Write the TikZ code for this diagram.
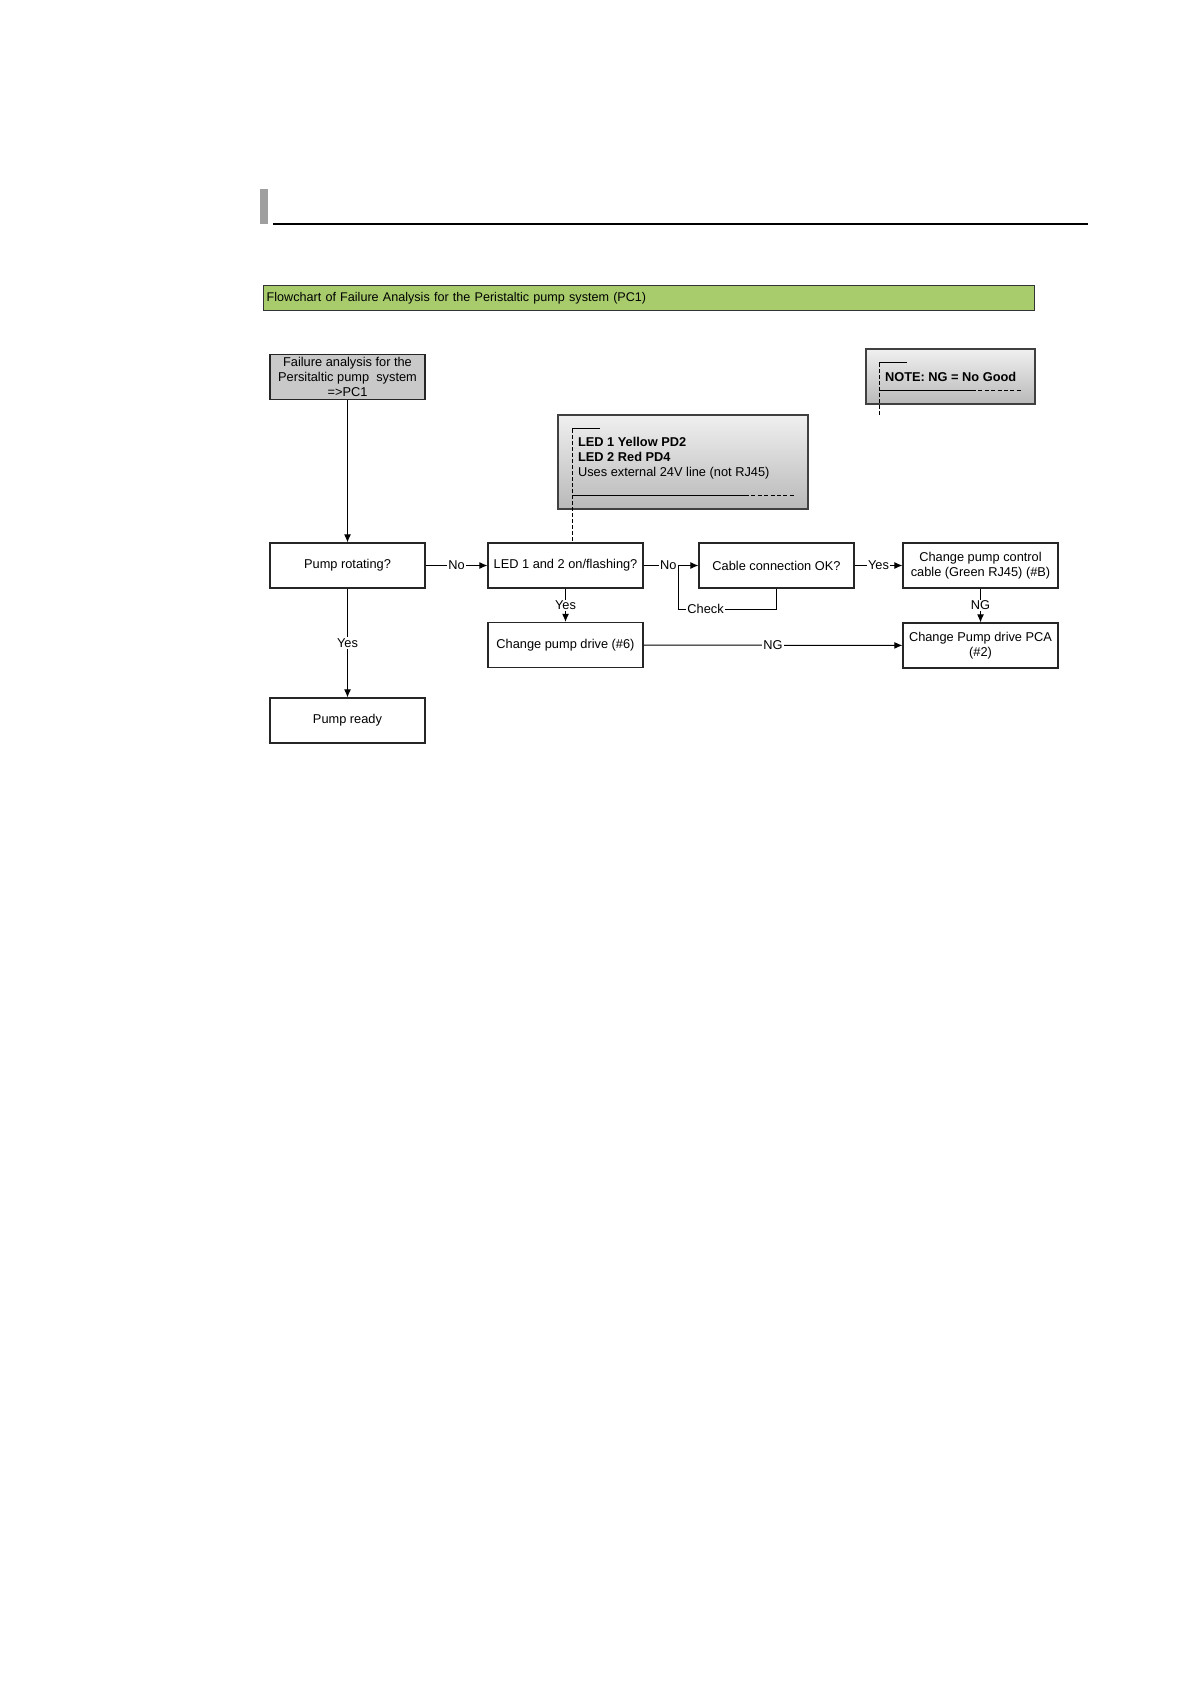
\documentclass[tikz,border=0pt]{standalone}
\usepackage{fontspec}
\setmainfont{Liberation Sans}
\usetikzlibrary{arrows.meta}

\definecolor{titlegreen}{RGB}{168,204,108}
\tikzset{
  txt/.style={font=\fontsize{6.4}{7.5}\selectfont},
  box/.style={draw=black!85, line width=0.55pt, minimum width=77.5pt, minimum height=22.5pt,
    inner sep=1pt, align=center, txt},
  greybox/.style={box, fill=gray!42},
  notebox/.style={draw=gray!50!black, line width=0.6pt, top color=gray!12, bottom color=gray!55},
  lbl/.style={fill=white, inner sep=0.6pt, txt},
  flow/.style={->, line width=0.5pt},
}

\begin{document}
\begin{tikzpicture}[x=0.5pt,y=-0.5pt,>={Latex[length=4pt,width=3.4pt]}]
	\useasboundingbox (0,0) rectangle (1190,1684);
	% page header
	\fill[gray!75] (260,189) rectangle (268,224);
	\draw[line width=0.8pt] (273,224) -- (1088,224);
	\node[draw=gray!40!black, fill=titlegreen, line width=0.7pt, anchor=north west,
		text width=382.5pt, inner xsep=1.5pt, minimum height=11.5pt,
		font=\fontsize{6.3}{7.5}\selectfont] (title) at (263,285)
		{Flowchart of Failure Analysis for the Peristaltic pump system (PC1)};

	% notes
	\node[notebox, minimum width=125pt, minimum height=47pt] (ledinfo) at (683,462) {};
	\node[anchor=west, align=left, txt] (ledtxt) at (571,458)
		{\textbf{LED 1 Yellow PD2}\\\textbf{LED 2 Red PD4}\\Uses external 24V line (not RJ45)};
	\node[notebox, minimum width=84.5pt, minimum height=27.5pt] (ngnote) at (950.5,376.5) {};
	\node[anchor=west, txt] (ngtxt) at (878,377) {\textbf{NOTE: NG = No Good}};

	% flow boxes
	\node[greybox] (fail) at (347.5,377) {Failure analysis for the\\Persitaltic pump~ system\\=>PC1};
	\node[box] (rot) at (347.5,565.5) {Pump rotating?};
	\node[box] (ready) at (347.5,720.5) {Pump ready};
	\node[box] (led) at (565.5,565.5) {LED 1 and 2 on/flashing?};
	\node[box] (drive) at (565.5,645) {Change pump drive (\#6)};
	\node[box] (cable) at (776.5,565.5) {Cable connection OK?};
	\node[box] (ctrl) at (980.5,565.5) {Change pump control\\cable (Green RJ45) (\#B)};
	\node[box] (pca) at (980.5,645.5) {Change Pump drive PCA\\(\#2)};

	% note brackets
	\coordinate (ledtag) at (572,429);
	\draw[line width=0.5pt] (ledtag) -- ++(28,0);
	\draw[dash pattern=on 2pt off 1pt, line width=0.5pt] (ledtag) -- (ledtag |- led.north);
	\draw[line width=0.5pt] (572,495) -- (745,495);
	\draw[dash pattern=on 2pt off 1.2pt, line width=0.5pt] (745,495) -- (795,495);
	\coordinate (ngtag) at (879,363);
	\draw[line width=0.5pt] (ngtag) -- ++(28,0);
	\draw[dash pattern=on 2pt off 1pt, line width=0.5pt] (ngtag) -- ++(0,54);
	\draw[line width=0.5pt] (879,391) -- (972,391);
	\draw[dash pattern=on 2pt off 1.2pt, line width=0.5pt] (972,391) -- (1022,391);

	% connectors
	\draw[flow] (fail) -- (rot);
	\draw[flow] (rot) -- node[lbl]{Yes} (ready);
	\draw[flow] (rot) -- node[lbl]{No} (led);
	\draw[flow] (led) -- node[lbl]{Yes} (drive);
	\draw[flow] (led) -- node[lbl,pos=0.45]{No} (cable);
	\draw[flow] (cable) -- node[lbl]{Yes} (ctrl);
	\draw[flow] (ctrl) -- node[lbl]{NG} (pca);
	\draw[flow] (drive) -- node[lbl]{NG} (pca);
	\coordinate (chk) at (678,566);
	\coordinate (chkc) at (678,609);
	\draw[line width=0.5pt] (cable.south) |- node[lbl,pos=0.86]{Check} (chkc) -- (chk);
\end{tikzpicture}
\end{document}
